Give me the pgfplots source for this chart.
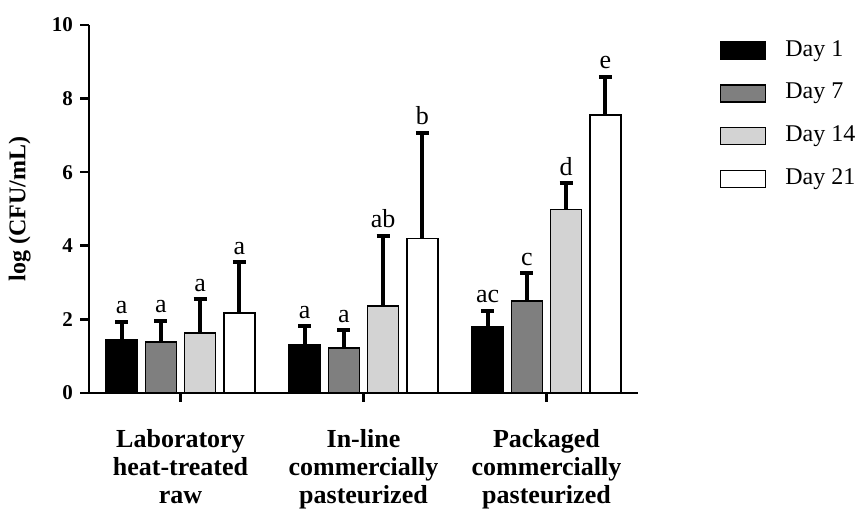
\documentclass[border=0pt]{standalone}
\usepackage{fontspec}
\setmainfont{Liberation Serif}
\usepackage{pgfplots}
\usepackage{pgfplotstable}
\pgfplotsset{compat=1.18}
\definecolor{dgray}{HTML}{7F7F7F}
\definecolor{lgray}{HTML}{D3D3D3}
\pgfplotstableread{
x y err lab
0 1.44 0.50 a
1 1.32 0.49 a
2 1.80 0.43 ac
}\dayone
\pgfplotstableread{
x y err lab
0 1.39 0.57 a
1 1.22 0.49 a
2 2.50 0.75 c
}\dayseven
\pgfplotstableread{
x y err lab
0 1.63 0.92 a
1 2.37 1.90 ab
2 4.99 0.71 d
}\dayfourteen
\pgfplotstableread{
x y err lab
0 2.17 1.38 a
1 4.20 2.87 b
2 7.55 1.05 e
}\daytwentyone
\begin{document}
\begin{tikzpicture}
\path[use as bounding box] (-44.5pt,-59.5pt) rectangle (384.5pt,196.5pt);
\begin{axis}[
  at={(0,0)}, anchor=south west,
  scale only axis, width=274.5pt, height=184pt,
  xmin=-0.5, xmax=2.5, ymin=0, ymax=10,
  clip=false,
  ybar=4.15pt, bar width=15.5pt,
  axis lines*=left,
  axis line style={line width=1.3pt, black},
  tick align=outside,
  major tick length=4.5pt,
  tick style={line width=1.3pt, black},
  xtick={0,1,2},
  ytick={0,2,4,6,8,10},
  xticklabels={{Laboratory\\heat-treated\\raw},{In-line\\commercially\\pasteurized},{Packaged\\commercially\\pasteurized}},
  xticklabel style={align=center, font=\bfseries\fontsize{13}{14}\selectfont, yshift=-10pt},
  yticklabel style={font=\bfseries\fontsize{10.5}{12}\selectfont},
  /pgf/number format/assume math mode=true,
  ylabel={log (CFU/mL)},
  ylabel style={font=\bfseries\fontsize{12}{14}\selectfont, at={(axis description cs:-0.126,0.5)}, anchor=center},
  legend cell align=left,
  legend style={at={(axis description cs:1.149,0.959)}, anchor=north west, draw=none, fill=none, inner sep=0pt, outer sep=0pt, row sep=10.9pt, column sep=9.5pt, nodes={inner sep=0pt, text height=8pt, text depth=2.5pt}, font=\fontsize{12}{14}\selectfont},
  legend image code/.code={\draw[#1, line width=0.75pt] (0pt,-4.25pt) rectangle (22.5pt,4.25pt);},
  nodes near coords,
  point meta=explicit symbolic,
  visualization depends on={\thisrow{err}\as\myerr},
  every node near coord/.append style={shift={(axis direction cs:0,\myerr)}, anchor=south, text=black, inner sep=3.5pt, font=\fontsize{13}{14}\selectfont},
  error bars/y dir=plus, error bars/y explicit,
  error bars/error bar style={line width=2pt, black},
  error bars/error mark=-,
  error bars/error mark options={rotate=90, line width=2pt, mark size=3.25pt, black},
]
\addplot[fill=black, draw=black, line width=0.75pt] table[x=x, y=y, y error=err, meta=lab] {\dayone};
\addlegendentry{Day 1}
\addplot[fill=dgray, draw=black, line width=0.75pt] table[x=x, y=y, y error=err, meta=lab] {\dayseven};
\addlegendentry{Day 7}
\addplot[fill=lgray, draw=black, line width=0.75pt] table[x=x, y=y, y error=err, meta=lab] {\dayfourteen};
\addlegendentry{Day 14}
\addplot[fill=white, draw=black, line width=0.75pt] table[x=x, y=y, y error=err, meta=lab] {\daytwentyone};
\addlegendentry{Day 21}
\end{axis}
\end{tikzpicture}
\end{document}
